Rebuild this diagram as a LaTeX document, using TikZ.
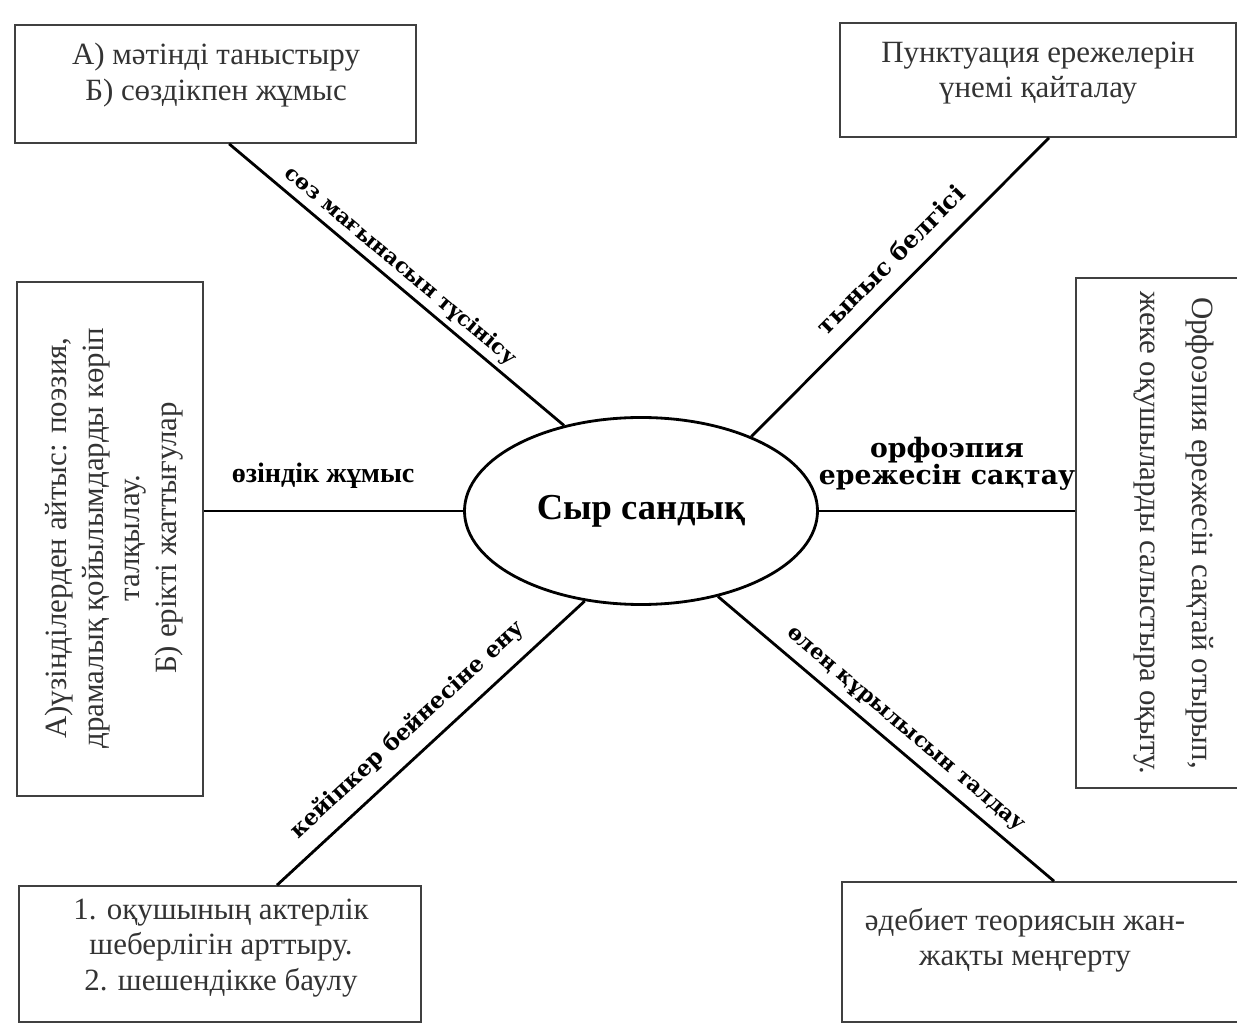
\documentclass[tikz,border=0pt]{standalone}
\usepackage{fontspec}
\setmainfont{Liberation Serif}
\newfontfamily\lblfont{DejaVu Serif}
\usetikzlibrary{shapes.geometric}

\begin{document}
\begin{tikzpicture}[
                x=0.25mm, y=-0.25mm,          % 像素坐标
                box/.style={draw=black!75, line width=1.2pt},
                boxtext/.style={
                    align=center,
                    text=black!80,
                    font=\fontsize{22}{25}\selectfont
                },
                hub/.style={
                    ellipse,
                    draw,
                    line width=2pt,
                    minimum width=88.25mm,
                    minimum height=46.75mm,
                    font=\bfseries\fontsize{26}{30}\selectfont
                },
                spoke/.style={line width=2pt},
                lbl/.style={font=\lblfont\bfseries\fontsize{15}{18}\selectfont}
            ]
                \useasboundingbox (0,0) rectangle (1237,1024);

                % 中心
                \node[hub] (sc) at (641,511) {Сыр сандық};

                % 方框
                \node[box, minimum width=100.25mm, minimum height=29.5mm] (tl) at (215.5,84) {};
                \node[boxtext] (tl-t) at (216,75) {А) мәтінді таныстыру\\Б) сөздікпен жұмыс};
                \node[box, minimum width=99mm, minimum height=28.5mm] (tr) at (1038,80) {};
                \node[boxtext] (tr-t) at (1038,73) {Пунктуация ережелерін\\үнемі қайталау};
                \node[box, minimum width=46.5mm, minimum height=128.5mm] (lt) at (110,539) {};
                \node[boxtext, rotate=90, font=\fontsize{22}{26}\selectfont] (lt-t) at (114,538)
                    {А)үзінділерден айтыс: поэзия,\\драмалық қойылымдарды көріп\\талқылау.\\Б) ерікті жаттығулар};
                \node[box, minimum width=49mm, minimum height=127.5mm] (rt) at (1174,533) {};
                \node[boxtext, rotate=-90, font=\fontsize{22}{37}\selectfont] (rt-t) at (1174,533)
                    {Орфоэпия ережесін сақтай отырып,\\жеке оқушыларды салыстыра оқыту.};
                \node[box, minimum width=100.5mm, minimum height=34mm] (bl) at (220,954) {};
                \node[boxtext] (bl-t) at (221,948) {1. оқушының актерлік\\шеберлігін арттыру.\\2. шешендікке баулу};
                \node[box, minimum width=99.5mm, minimum height=35mm] (br) at (1041,952) {};
                \node[boxtext] (br-t) at (1025,940) {әдебиет теориясын жан-\\жақты меңгерту};

                % 连线
                \draw[spoke] ([xshift=3.4mm]tl.south) -- (sc.132)
                    node[lbl, sloped, above, pos=0.48] (l-tl) {сөз мағынасын түсінісу};
                \draw[spoke] (sc.34) -- ([xshift=2.75mm]tr.south)
                    node[lbl, sloped, above=2.8mm, pos=0.53, font=\lblfont\bfseries\fontsize{17}{20}\selectfont] (l-tr) {тыныс белгісі};
                \draw[spoke] (lt.east |- sc) -- (sc.west)
                    node[lbl, above=4mm, pos=0.46, font=\bfseries\fontsize{20}{24}\selectfont] (l-lt) {өзіндік жұмыс};
                \draw[spoke] (sc.east) -- (rt.west |- sc)
                    node[lbl, align=center, above=3.7mm, pos=0.5, font=\lblfont\bfseries\fontsize{19}{19}\selectfont] (l-rt) {орфоэпия\\ережесін сақтау};
                \draw[spoke] ([xshift=14.25mm]bl.north) -- (sc.238)
                    node[lbl, sloped, above=2mm, pos=0.48, font=\lblfont\bfseries\fontsize{16}{19}\selectfont] (l-bl) {кейіпкер бейнесіне ену};
                \draw[spoke] (sc.312) -- ([xshift=3.25mm]br.north)
                    node[lbl, sloped, above=1mm, pos=0.52] (l-br) {өлең құрылысын талдау};
            \end{tikzpicture}
\end{document}
